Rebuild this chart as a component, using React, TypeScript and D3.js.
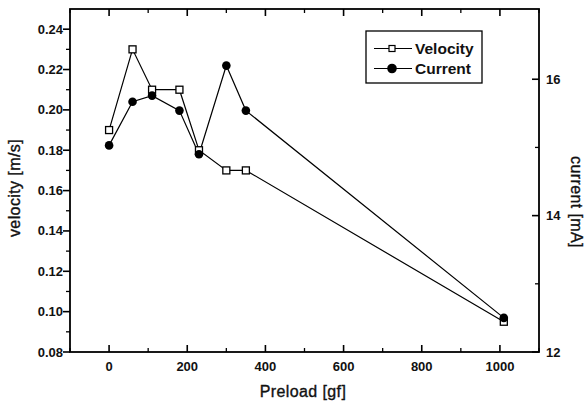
import React from "react";
import * as d3 from "d3";

const preload = [0, 60, 110, 180, 230, 300, 350, 1010];
const velocity = [0.19, 0.23, 0.21, 0.21, 0.18, 0.17, 0.17, 0.095];
const current = [15.03, 15.67, 15.76, 15.54, 14.9, 16.2, 15.54, 12.5];
const xTicks = [0, 200, 400, 600, 800, 1000];
const xMinor = [-100, 100, 300, 500, 700, 900, 1100];
const yTicks = [0.08, 0.1, 0.12, 0.14, 0.16, 0.18, 0.2, 0.22, 0.24];
const yMinor = [0.09, 0.11, 0.13, 0.15, 0.17, 0.19, 0.21, 0.23];
const y2Ticks = [12, 14, 16];
const y2Minor = [13, 15];

const W = 585, H = 405;
const L = 70, R = 539, T = 9, B = 352;

export default function App() {
  const x = d3.scaleLinear().domain([-100, 1100]).range([L, R]);
  const y = d3.scaleLinear().domain([0.08, 0.25]).range([B, T]);
  const y2 = d3.scaleLinear().domain([12, 17.03]).range([B, T]);
  const lineV = d3.line<number>().x((_, i) => x(preload[i])).y((d) => y(d));
  const lineC = d3.line<number>().x((_, i) => x(preload[i])).y((d) => y2(d));
  const font = "'Liberation Sans', Arial, sans-serif";
  const titleStyle = { fontSize: 16, letterSpacing: 0.4, fill: "#111", stroke: "#111", strokeWidth: 0.35 } as any;
  return (
    <svg width={W} height={H} style={{ position: "absolute", left: 0, top: 0, background: "#fff" }} fontFamily={font}>
      <rect x={0} y={0} width={W} height={H} fill="#fff" />
      {/* frame */}
      <rect x={L} y={T} width={R - L} height={B - T} fill="none" stroke="#000" strokeWidth={1.8} />
      {/* x ticks bottom & top */}
      {xTicks.map((t) => (
        <g key={"xt" + t}>
          <line x1={x(t)} x2={x(t)} y1={B} y2={B - 7} stroke="#000" strokeWidth={1.6} />
          <line x1={x(t)} x2={x(t)} y1={T} y2={T + 7} stroke="#000" strokeWidth={1.6} />
          <text x={x(t)} y={B + 19} textAnchor="middle" fontSize={13} fontWeight="bold" fill="#111">{t}</text>
        </g>
      ))}
      {xMinor.map((t) => (
        <g key={"xm" + t}>
          <line x1={x(t)} x2={x(t)} y1={B} y2={B - 4} stroke="#000" strokeWidth={1.3} />
          <line x1={x(t)} x2={x(t)} y1={T} y2={T + 4} stroke="#000" strokeWidth={1.3} />
        </g>
      ))}
      {/* left y ticks */}
      {yTicks.map((t) => (
        <g key={"yt" + t}>
          <line x1={L} x2={L - 7} y1={y(t)} y2={y(t)} stroke="#000" strokeWidth={1.6} />
          <text x={L - 7} y={y(t) + 4.5} textAnchor="end" fontSize={13} fontWeight="bold" fill="#111">{t.toFixed(2)}</text>
        </g>
      ))}
      {yMinor.map((t) => (
        <line key={"ym" + t} x1={L} x2={L - 4} y1={y(t)} y2={y(t)} stroke="#000" strokeWidth={1.3} />
      ))}
      {/* right y ticks */}
      {y2Ticks.map((t) => (
        <g key={"y2t" + t}>
          <line x1={R} x2={R - 7} y1={y2(t)} y2={y2(t)} stroke="#000" strokeWidth={1.6} />
          <text x={R + 7} y={y2(t) + 4.5} textAnchor="start" fontSize={13} fontWeight="bold" fill="#111">{t}</text>
        </g>
      ))}
      {y2Minor.map((t) => (
        <line key={"y2m" + t} x1={R} x2={R - 4} y1={y2(t)} y2={y2(t)} stroke="#000" strokeWidth={1.3} />
      ))}
      {/* axis titles */}
      <text x={303} y={397} textAnchor="middle" {...titleStyle}>Preload [gf]</text>
      <text transform={`translate(20,188) rotate(-90)`} textAnchor="middle" {...titleStyle}>velocity [m/s]</text>
      <text transform={`translate(571,202) rotate(90)`} textAnchor="middle" {...titleStyle}>current [mA]</text>
      {/* series */}
      <path d={lineV(velocity) || ""} fill="none" stroke="#000" strokeWidth={1.2} />
      <path d={lineC(current) || ""} fill="none" stroke="#000" strokeWidth={1.2} />
      {velocity.map((v, i) => (
        <rect key={"v" + i} x={x(preload[i]) - 3.5} y={y(v) - 3.5} width={7} height={7} fill="#fff" stroke="#000" strokeWidth={1.3} />
      ))}
      {current.map((c, i) => (
        <circle key={"c" + i} cx={x(preload[i])} cy={y2(c)} r={4.3} fill="#000" />
      ))}
      {/* legend */}
      <rect x={366} y={31} width={116} height={52} fill="#fff" stroke="#000" strokeWidth={1.3} />
      <line x1={374} x2={412} y1={48.5} y2={48.5} stroke="#000" strokeWidth={1.2} />
      <rect x={389} y={45.5} width={6} height={6} fill="#fff" stroke="#000" strokeWidth={1.2} />
      <text x={415} y={53.5} fontSize={15.5} fontWeight="bold" fill="#111">Velocity</text>
      <line x1={374} x2={412} y1={68.5} y2={68.5} stroke="#000" strokeWidth={1.2} />
      <circle cx={392} cy={68.5} r={4.8} fill="#000" />
      <text x={415} y={73.5} fontSize={15.5} fontWeight="bold" fill="#111">Current</text>
    </svg>
  );
}
